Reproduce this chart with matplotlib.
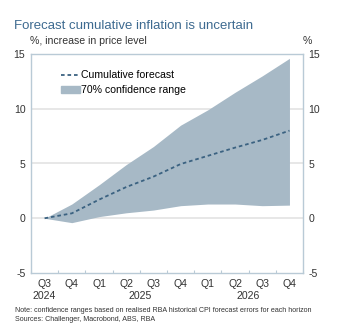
import numpy as np
import matplotlib.pyplot as plt
from matplotlib.patches import Patch
from matplotlib.lines import Line2D

plt.rcParams['font.family'] = ['Liberation Sans', 'DejaVu Sans']
plt.rcParams['axes.unicode_minus'] = False

# Quarterly horizon, Q3 2024 to Q4 2026
quarters = ['Q3', 'Q4', 'Q1', 'Q2', 'Q3', 'Q4', 'Q1', 'Q2', 'Q3', 'Q4']
years = ['2024', '2025', '2026']
year_pos = [0, 3.5, 7.5]

forecast = [0.0, 0.45, 1.7, 2.85, 3.8, 4.95, 5.7, 6.45, 7.15, 8.0]
upper = [0.0, 1.3, 3.05, 4.9, 6.55, 8.5, 9.9, 11.5, 13.0, 14.6]
lower = [0.0, -0.4, 0.15, 0.5, 0.75, 1.15, 1.3, 1.3, 1.15, 1.2]

fill_col = '#a7b9c6'
line_col = '#3b6281'
frame_col = '#b9cad6'
text_col = '#333333'
fs = 7.6

fig = plt.figure(figsize=(3.39, 3.27), dpi=100)
ax = fig.add_axes([0.0914, 0.165, 0.8026, 0.67])
x = np.arange(len(quarters))

for y in [0, 5, 10]:
    ax.axhline(y, color='#e3e3e3', lw=1.2, zorder=0)

ax.fill_between(x, lower, upper, color=fill_col, lw=0, zorder=1)
ax.plot(x, forecast, color=line_col, lw=1.3, ls=(0, (2, 1.6)), zorder=2)

ax.set_xlim(-0.5, len(quarters) - 0.5)
ax.set_ylim(-5, 15)
ax.set_yticks([-5, 0, 5, 10, 15])

for s in ax.spines.values():
    s.set_color(frame_col)
    s.set_linewidth(1.0)

ax.tick_params(axis='y', length=0, labelsize=fs, labelcolor=text_col,
               right=True, labelright=True, pad=4)
ax.set_xticks(np.arange(len(quarters) + 1) - 0.5)
ax.set_xticklabels([])
ax.tick_params(axis='x', length=2, color=frame_col, direction='in')

trans = ax.get_xaxis_transform()
for i, q in enumerate(quarters):
    ax.text(i, -0.026, q, ha='center', va='top', fontsize=fs, color=text_col,
            transform=trans)
for p, yr in zip(year_pos, years):
    ax.text(p, -0.082, yr, ha='center', va='top', fontsize=fs, color=text_col,
            transform=trans)

handles = [Line2D([0], [0], color=line_col, lw=1.3, ls=(0, (2, 1.6))),
           Patch(color=fill_col)]
ax.legend(handles, ['Cumulative forecast', '70% confidence range'],
          loc='upper left', bbox_to_anchor=(0.11, 0.925), frameon=False,
          fontsize=fs, handlelength=1.8, handletextpad=0.1,
          labelspacing=0.45, borderaxespad=0.0, borderpad=0.0)

fig.text(0.041, 0.91, 'Forecast cumulative inflation is uncertain',
         fontsize=9.5, color='#3d6a90', va='baseline')
fig.text(0.089, 0.865, '%, increase in price level', fontsize=fs,
         color=text_col, va='baseline')
fig.text(0.893, 0.865, '%', fontsize=fs, color=text_col, va='baseline')
fig.text(0.044, 0.047, 'Note: confidence ranges based on realised RBA historical CPI '
         'forecast errors for each horizon', fontsize=5.1, color=text_col, va='baseline')
fig.text(0.044, 0.019, 'Sources: Challenger, Macrobond, ABS, RBA', fontsize=5.1,
         color=text_col, va='baseline')

fig.savefig('out.png', dpi=100)
